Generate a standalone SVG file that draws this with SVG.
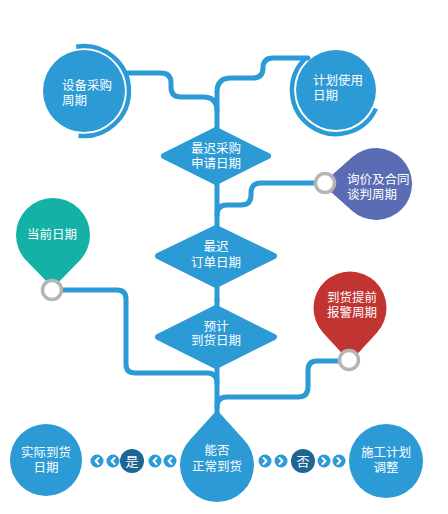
<svg xmlns="http://www.w3.org/2000/svg" width="448" height="514" viewBox="0 0 448 514">
<defs>
<style>
.blue{fill:#2B9AD5}
.dia{fill:#2B9AD5;stroke:#2B9AD5;stroke-width:6;stroke-linejoin:round}
.ln{fill:none;stroke:#2B9AD5;stroke-width:5;stroke-linecap:round;stroke-linejoin:round}
.arc{fill:none;stroke:#2B9AD5;stroke-width:4.5}
.ring{fill:#fff;stroke:#B5B5B5;stroke-width:3.5}
.t{fill:#fff;font-family:"Noto Sans CJK SC","Noto Sans",sans-serif;font-size:12.5px}
.c{text-anchor:middle}
.chev{fill:none;stroke:#fff;stroke-width:2;stroke-linecap:round;stroke-linejoin:round}
.dark{fill:#1D6593}
</style>
</defs>
<rect width="448" height="514" fill="#fff"/>
<g id="connectors">
<path class="ln" d="M128,73 H161 Q171,73 171,83 V87 Q171,97 181,97 H203 Q217,97 217,111 V300"/>
<path class="ln" d="M308,58 H273 Q263,58 263,68 V68 Q263,78 253,78 H231 Q217,78 217,92 V110"/>
<path class="ln" d="M314,183 H261 Q251,183 251,193 V195 Q251,205 241,205 H227 Q217,205 217,215"/>
<path class="ln" d="M217,300 V415"/>
<path class="ln" d="M62,290 H117 Q126,290 126,299 V364 Q126,373 135,373 H207 Q217,373 217,383"/>
<path class="ln" d="M339,361 H317 Q308,361 308,370 V387 Q308,397 298,397 H227 Q217,397 217,407"/>
</g>
<g id="n-shebei">
<circle class="blue" cx="84" cy="91" r="41"/>
<path class="arc" d="M76.2,46.7 A45,45 0 1 1 78.5,135.7"/>
<text class="t" x="62" y="90">设备采购</text>
<text class="t" x="62" y="105">周期</text>
</g>
<g id="n-jihua">
<circle class="blue" cx="336" cy="90" r="40"/>
<path class="arc" d="M306.1,57.8 A44,44 0 1 0 375.9,108.6"/>
<text class="t" x="313" y="85">计划使用</text>
<text class="t" x="313" y="100">日期</text>
</g>
<g id="n-zuichicaigou">
<polygon class="dia" points="216,130 268,156 216,182 164,156"/>
<text class="t c" x="216" y="153">最迟采购</text>
<text class="t c" x="216" y="168">申请日期</text>
</g>
<g id="n-xunjia">
<path fill="#5A6CB4" d="M322,184 L352,157.2 A36,36 0 1 1 352,210.8 Z"/>
<circle class="ring" cx="325" cy="183" r="9.5"/>
<text class="t" x="347" y="184">询价及合同</text>
<text class="t" x="347" y="199">谈判周期</text>
</g>
<g id="n-dangqian">
<path fill="#14B1A6" d="M53,288 L79.5,260.8 A37,37 0 1 0 26.5,260.8 Z"/>
<circle class="ring" cx="52" cy="290" r="9.5"/>
<text class="t c" x="52" y="239">当前日期</text>
</g>
<g id="n-zuichidingdan">
<polygon class="dia" points="216,228 274,256 216,285 158,256"/>
<text class="t c" x="216" y="251">最迟</text>
<text class="t c" x="216" y="267">订单日期</text>
</g>
<g id="n-daohuo">
<path fill="#C23431" d="M350,362 L376.9,332.7 A36.5,36.5 0 1 0 323.1,332.7 Z"/>
<circle class="ring" cx="349" cy="360" r="9.5"/>
<text class="t c" x="352" y="302">到货提前</text>
<text class="t c" x="352" y="317">报警周期</text>
</g>
<g id="n-yuji">
<polygon class="dia" points="216,308 274,337 216,366 158,337"/>
<text class="t c" x="216" y="331">预计</text>
<text class="t c" x="216" y="345">到货日期</text>
</g>
<g id="n-nengfou">
<path class="blue" d="M217,410 L243.5,439.2 A37,37 0 1 1 190.5,439.2 Z"/>
<text class="t c" x="217" y="455">能否</text>
<text class="t c" x="217" y="471">正常到货</text>
</g>
<g id="n-shiji">
<circle class="blue" cx="46" cy="460" r="36"/>
<text class="t c" x="46" y="457">实际到货</text>
<text class="t c" x="46" y="472">日期</text>
</g>
<g id="n-shigong">
<circle class="blue" cx="386" cy="461" r="37"/>
<text class="t c" x="386" y="457">施工计划</text>
<text class="t c" x="386" y="472">调整</text>
</g>
<g id="yes">
<circle class="blue" cx="97" cy="461" r="6.5"/><path class="chev" d="M98.5,458 L95.5,461 L98.5,464"/>
<circle class="blue" cx="113" cy="461" r="6.5"/><path class="chev" d="M114.5,458 L111.5,461 L114.5,464"/>
<circle class="dark" cx="132" cy="461" r="12"/>
<text class="t c" x="132" y="466" style="font-size:13px">是</text>
<circle class="blue" cx="155" cy="461" r="6.5"/><path class="chev" d="M156.5,458 L153.5,461 L156.5,464"/>
<circle class="blue" cx="170" cy="461" r="6.5"/><path class="chev" d="M171.5,458 L168.5,461 L171.5,464"/>
</g>
<g id="no">
<circle class="blue" cx="265" cy="461" r="6.5"/><path class="chev" d="M263.5,458 L266.5,461 L263.5,464"/>
<circle class="blue" cx="281" cy="461" r="6.5"/><path class="chev" d="M279.5,458 L282.5,461 L279.5,464"/>
<circle class="dark" cx="303" cy="461" r="12"/>
<text class="t c" x="303" y="466" style="font-size:13px">否</text>
<circle class="blue" cx="324" cy="461" r="6.5"/><path class="chev" d="M322.5,458 L325.5,461 L322.5,464"/>
<circle class="blue" cx="339" cy="461" r="6.5"/><path class="chev" d="M337.5,458 L340.5,461 L337.5,464"/>
</g>
</svg>
